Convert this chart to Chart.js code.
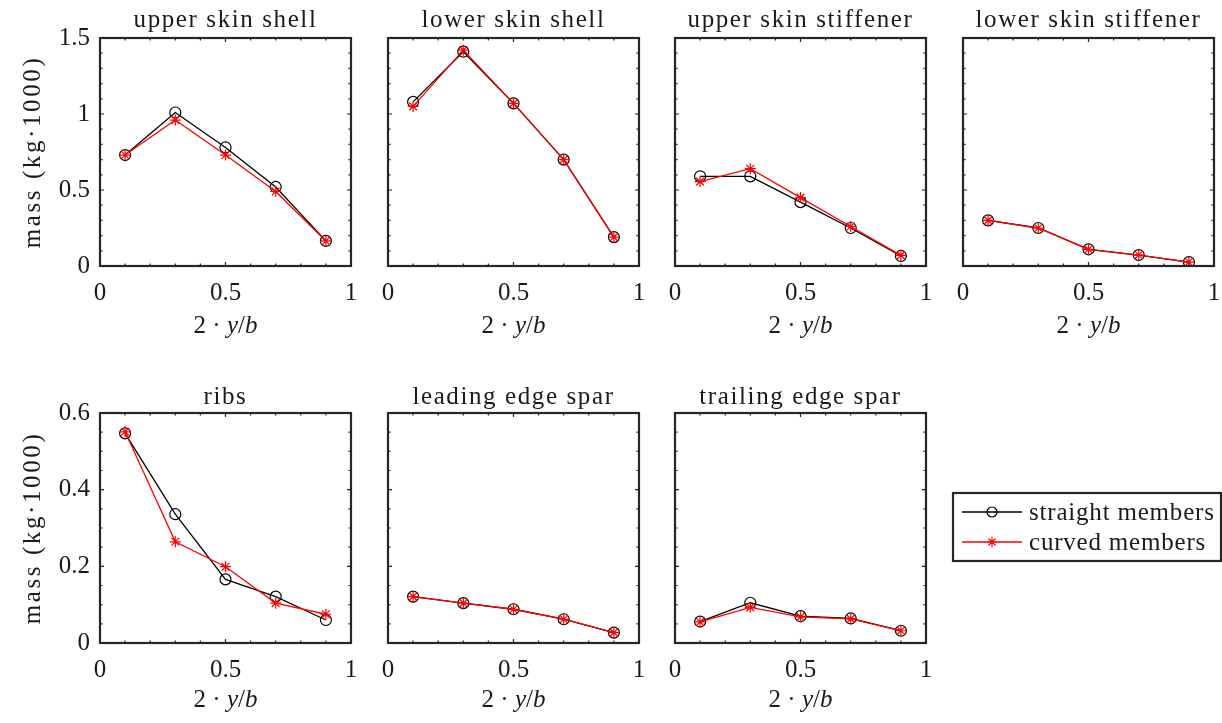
<!DOCTYPE html>
<html>
<head>
<meta charset="utf-8">
<script src="https://cdn.jsdelivr.net/npm/chart.js@4.4.0/dist/chart.umd.min.js"></script>
<style>
  html, body { margin: 0; padding: 0; background: #fff; overflow: hidden; }
  #figure { position: relative; width: 1222px; height: 723px; background: #fff; }
  #figure canvas { position: absolute; }
</style>
</head>
<body>
<div id="figure"></div>
<script>
// spanwise stations 2y/b
const stations = [0.1, 0.3, 0.5, 0.7, 0.9];

const panelTitles = ['upper skin shell', 'lower skin shell', 'upper skin stiffener', 'lower skin stiffener',
                     'ribs', 'leading edge spar', 'trailing edge spar'];
const seriesNames = ['straight members', 'curved members'];
const yAxisLabel = 'mass (kg·1000)';

// mass per station (kg·1000), straight members
const upperShellStraight = [0.73, 1.01, 0.78, 0.52, 0.165];
const lowerShellStraight = [1.08, 1.41, 1.07, 0.70, 0.19];
const upperStiffStraight = [0.59, 0.59, 0.42, 0.25, 0.066];
const lowerStiffStraight = [0.30, 0.25, 0.11, 0.072, 0.026];
const ribsStraight = [0.547, 0.336, 0.166, 0.121, 0.06];
const leSparStraight = [0.121, 0.104, 0.088, 0.062, 0.027];
const teSparStraight = [0.056, 0.105, 0.070, 0.064, 0.032];

// mass per station (kg·1000), curved members
const upperShellCurved = [0.73, 0.96, 0.73, 0.49, 0.165];
const lowerShellCurved = [1.05, 1.42, 1.07, 0.70, 0.19];
const upperStiffCurved = [0.555, 0.64, 0.45, 0.26, 0.07];
const lowerStiffCurved = [0.30, 0.25, 0.11, 0.072, 0.026];
const ribsCurved = [0.551, 0.264, 0.199, 0.104, 0.075];
const leSparCurved = [0.121, 0.104, 0.088, 0.062, 0.027];
const teSparCurved = [0.055, 0.093, 0.068, 0.063, 0.032];

const straightSeries = [upperShellStraight, lowerShellStraight, upperStiffStraight, lowerStiffStraight,
                        ribsStraight, leSparStraight, teSparStraight];
const curvedSeries = [upperShellCurved, lowerShellCurved, upperStiffCurved, lowerStiffCurved,
                      ribsCurved, leSparCurved, teSparCurved];

const xTicks = [0, 0.5, 1];
const yTicksTop = [0, 0.5, 1, 1.5];
const yTicksBottom = [0, 0.2, 0.4, 0.6];

// figure layout
const boxLeft = [100, 388, 675, 963];
const boxTop = [38, 413];
const boxW = 251;
const boxH = [228, 230];
const padL = 100, padT = 38, padR = 24, padB = 80;

const FONT = '"Liberation Serif", "Times New Roman", serif';
const axisColor = '#262626';
const textColor = '#1a1a1a';

Chart.defaults.font.family = FONT;
Chart.defaults.font.size = 25;
Chart.defaults.color = textColor;

const fig = document.getElementById('figure');

function makeCanvas(left, top, w, h) {
  const c = document.createElement('canvas');
  c.width = w; c.height = h;
  c.style.left = left + 'px';
  c.style.top = top + 'px';
  c.style.width = w + 'px';
  c.style.height = h + 'px';
  fig.appendChild(c);
  return c;
}

// box, inward ticks, titles and axis labels
const boxAxes = {
  id: 'boxAxes',
  afterDraw(chart, args, opts) {
    const { ctx, chartArea: a } = chart;
    const xs = chart.scales.x, ys = chart.scales.y;
    ctx.save();
    ctx.strokeStyle = axisColor;
    ctx.lineWidth = 1.2;
    ctx.beginPath();
    for (let i = 0; i <= 10; i++) {
      const px = xs.getPixelForValue(i / 10);
      const len = i % 5 === 0 ? 4 : 2.5;
      ctx.moveTo(px, a.bottom); ctx.lineTo(px, a.bottom - len);
      ctx.moveTo(px, a.top); ctx.lineTo(px, a.top + len);
    }
    const n = Math.round(ys.max / opts.yMinor);
    for (let i = 0; i <= n; i++) {
      const v = i * opts.yMinor;
      const py = ys.getPixelForValue(v);
      const major = opts.yMajor.some(t => Math.abs(t - v) < 1e-9);
      const len = major ? 4 : 2.5;
      ctx.moveTo(a.left, py); ctx.lineTo(a.left + len, py);
      ctx.moveTo(a.right, py); ctx.lineTo(a.right - len, py);
    }
    ctx.stroke();

    ctx.lineWidth = 2.2;
    ctx.strokeRect(a.left, a.top, a.right - a.left, a.bottom - a.top);

    // panel title
    ctx.fillStyle = textColor;
    ctx.textAlign = 'center';
    ctx.textBaseline = 'alphabetic';
    ctx.font = '25px ' + FONT;
    ctx.letterSpacing = '1.6px';
    const cx = (a.left + a.right) / 2;
    ctx.fillText(opts.title, cx, a.top - opts.titleGap);

    // y label on the first column
    if (opts.yLabel) {
      ctx.save();
      ctx.letterSpacing = '2.6px';
      ctx.translate(33, (a.top + a.bottom) / 2);
      ctx.rotate(-Math.PI / 2);
      ctx.textBaseline = 'middle';
      ctx.fillText(opts.yLabel, 0, 0);
      ctx.restore();
    }

    // x label 2·y/b with italic variables
    ctx.letterSpacing = '0px';
    const parts = [['2 · ', ''], ['y', 'italic '], ['/', ''], ['b', 'italic ']];
    let total = 0;
    const widths = parts.map(([t, s]) => {
      ctx.font = s + '25px ' + FONT;
      const w = ctx.measureText(t).width;
      total += w;
      return w;
    });
    let x = cx - total / 2;
    ctx.textAlign = 'left';
    parts.forEach(([t, s], i) => {
      ctx.font = s + '25px ' + FONT;
      ctx.fillText(t, x, a.bottom + opts.xLabelGap);
      x += widths[i];
    });
    ctx.restore();
  }
};

function panel(idx) {
  const row = idx < 4 ? 0 : 1;
  const col = idx % 4;
  const h = boxH[row];
  const canvas = makeCanvas(boxLeft[col] - padL, boxTop[row] - padT, padL + boxW + padR, padT + h + padB);
  const yMax = row === 0 ? 1.5 : 0.6;
  const yTicks = row === 0 ? yTicksTop : yTicksBottom;

  return new Chart(canvas, {
    type: 'line',
    data: {
      datasets: [
        {
          label: seriesNames[0],
          data: stations.map((s, i) => ({ x: s, y: straightSeries[idx][i] })),
          borderColor: '#000',
          borderWidth: 1.3,
          pointStyle: 'circle',
          pointRadius: 5.5,
          pointBorderColor: '#000',
          pointBackgroundColor: 'rgba(0,0,0,0)',
          pointBorderWidth: 1.2,
          order: 1
        },
        {
          label: seriesNames[1],
          data: stations.map((s, i) => ({ x: s, y: curvedSeries[idx][i] })),
          borderColor: '#ff0000',
          borderWidth: 1.3,
          pointStyle: 'star',
          pointRadius: 5.5,
          pointBorderColor: '#ff0000',
          pointBackgroundColor: '#ff0000',
          pointBorderWidth: 1.2,
          order: 0
        }
      ]
    },
    options: {
      responsive: false,
      animation: false,
      devicePixelRatio: 1,
      layout: { padding: { left: 0, top: padT, right: padR, bottom: 0 } },
      plugins: {
        legend: { display: false },
        tooltip: { enabled: false },
        boxAxes: {
          title: panelTitles[idx],
          titleGap: row === 0 ? 11 : 9,
          xLabelGap: row === 0 ? 67 : 64,
          yMinor: row === 0 ? 0.1 : 0.05,
          yMajor: yTicks,
          yLabel: col === 0 ? yAxisLabel : null
        }
      },
      scales: {
        x: {
          type: 'linear',
          min: 0, max: 1,
          grid: { display: false, drawTicks: false },
          border: { display: false },
          afterBuildTicks: s => { s.ticks = xTicks.map(v => ({ value: v })); },
          afterFit: s => { s.height = padB; },
          ticks: { color: textColor, padding: 12, maxRotation: 0, autoSkip: false, callback: v => String(v) }
        },
        y: {
          type: 'linear',
          min: 0, max: yMax,
          grid: { display: false, drawTicks: false },
          border: { display: false },
          afterBuildTicks: s => { s.ticks = yTicks.map(v => ({ value: v })); },
          afterFit: s => { s.width = padL; },
          ticks: { display: col === 0, color: textColor, padding: 10, callback: v => String(v) }
        }
      }
    },
    plugins: [boxAxes]
  });
}

for (let i = 0; i < panelTitles.length; i++) panel(i);

// legend panel: line samples with markers, styled from the same dataset settings
const legendBox = {
  id: 'legendBox',
  afterDraw(chart) {
    const { ctx } = chart;
    ctx.save();
    ctx.strokeStyle = axisColor;
    ctx.lineWidth = 2.2;
    ctx.strokeRect(13, 13, 268, 68);
    chart.data.datasets.forEach((ds, i) => {
      const y = 32 + i * 30;
      ctx.strokeStyle = ds.borderColor;
      ctx.lineWidth = 1.3;
      ctx.beginPath();
      ctx.moveTo(22, y); ctx.lineTo(82, y);
      ctx.stroke();
      ctx.fillStyle = ds.pointBackgroundColor;
      ctx.lineWidth = 1.2;
      Chart.helpers.drawPoint(ctx, { pointStyle: ds.pointStyle, radius: 5, rotation: 0, borderWidth: 1.2 }, 52, y);
      ctx.fillStyle = textColor;
      ctx.font = '25px ' + FONT;
      ctx.letterSpacing = '0.8px';
      ctx.textAlign = 'left';
      ctx.textBaseline = 'middle';
      ctx.fillText(ds.label, 89, y + 1);
    });
    ctx.restore();
  }
};

new Chart(makeCanvas(940, 480, 282, 100), {
  type: 'line',
  data: {
    datasets: [
      { label: seriesNames[0], data: [], borderColor: '#000', pointStyle: 'circle', pointBackgroundColor: 'rgba(0,0,0,0)' },
      { label: seriesNames[1], data: [], borderColor: '#ff0000', pointStyle: 'star', pointBackgroundColor: '#ff0000' }
    ]
  },
  options: {
    responsive: false,
    animation: false,
    devicePixelRatio: 1,
    plugins: { legend: { display: false }, tooltip: { enabled: false } },
    scales: { x: { display: false }, y: { display: false } }
  },
  plugins: [legendBox]
});
</script>
</body>
</html>
